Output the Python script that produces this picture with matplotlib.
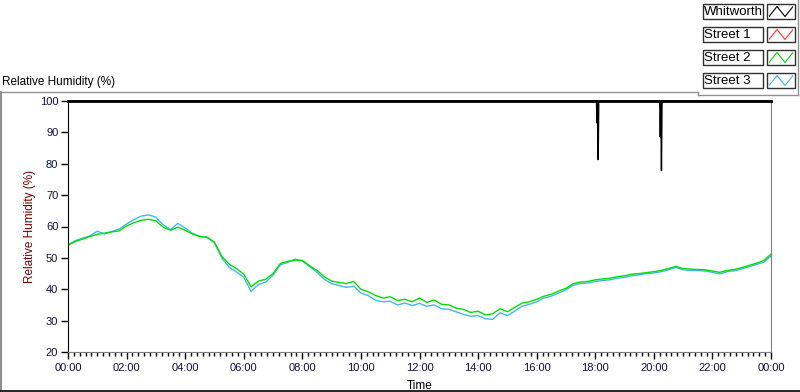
import matplotlib.pyplot as plt
from matplotlib.lines import Line2D
from matplotlib.patches import Rectangle

plt.rcParams['font.family'] = ['Liberation Sans', 'DejaVu Sans']
plt.rcParams['font.size'] = 8.5

# hours since midnight, sampled every 15 minutes
hours = [i * 0.25 for i in range(97)]

street2 = [54.0, 55.2, 56.0, 56.8, 57.5, 57.9, 58.3, 58.6, 60.2, 61.2, 62.0, 62.3, 61.8, 59.8, 58.8, 59.8,
           58.8, 57.6, 56.8, 56.6, 55.0, 50.5, 48.0, 46.6, 44.8, 40.8, 42.6, 43.2, 45.0, 48.2, 48.9, 49.3,
           49.2, 47.5, 46.0, 44.0, 42.6, 42.2, 41.8, 42.5, 40.0, 39.2, 38.0, 37.2, 37.6, 36.4, 36.8, 36.0,
           37.2, 35.8, 36.6, 35.2, 35.0, 34.0, 33.6, 32.6, 33.0, 31.8, 32.2, 33.8, 32.8, 34.2, 35.6, 36.0,
           36.8, 37.8, 38.4, 39.4, 40.3, 41.8, 42.3, 42.5, 43.0, 43.3, 43.5, 44.0, 44.3, 44.8, 45.0, 45.3,
           45.6, 46.0, 46.6, 47.3, 46.6, 46.4, 46.3, 46.2, 45.8, 45.4, 46.0, 46.3, 46.9, 47.6, 48.3, 49.1,
           51.2]

street3 = [54.2, 55.5, 56.3, 57.0, 58.5, 57.6, 58.4, 59.2, 60.8, 62.2, 63.3, 63.7, 63.0, 60.5, 59.0, 61.0,
           59.5, 57.8, 56.9, 56.5, 54.8, 50.0, 47.0, 45.5, 43.8, 39.3, 41.5, 42.3, 44.5, 47.8, 48.6, 49.6,
           49.0, 47.2, 45.4, 43.2, 41.8, 41.2, 40.6, 41.0, 38.8, 38.0, 36.5, 36.0, 36.2, 35.0, 35.6, 34.8,
           35.5, 34.6, 35.0, 33.8, 33.6, 32.8, 32.0, 31.4, 31.6, 30.6, 30.4, 32.5, 31.6, 33.0, 34.6, 35.2,
           36.0, 37.2, 37.8, 38.8, 39.8, 41.3, 41.8, 42.0, 42.5, 42.8, 43.0, 43.5, 43.8, 44.3, 44.6, 45.0,
           45.2, 45.6, 46.2, 47.0, 46.2, 46.0, 46.0, 45.8, 45.4, 44.9, 45.6, 45.9, 46.5, 47.2, 47.9, 48.6,
           50.6]

# Whitworth sensor sits at saturation with two short dropouts
whit_hours = [0, 18.04, 18.06, 18.08, 18.1, 18.12, 20.2, 20.22, 20.24, 20.26, 20.28, 24]
whitworth = [100, 100, 93, 100, 81.3, 100, 100, 88.5, 100, 77.8, 100, 100]

street1_hours = [0, 24]
street1 = [100, 100]

series_names = ['Whitworth', 'Street 1', 'Street 2', 'Street 3']
series_colors = ['black', '#ff3030', '#00e000', '#40b8f0']

fig = plt.figure(figsize=(8, 3.92), dpi=100)
ax = fig.add_axes([68 / 800, 1 - 352 / 392, 703 / 800, 251 / 392])

ax.plot(street1_hours, street1, color=series_colors[1], lw=1, clip_on=False)
ax.plot(hours, street3, color=series_colors[3], lw=1)
ax.plot(hours, street2, color=series_colors[2], lw=1)
ax.plot(whit_hours, whitworth, color=series_colors[0], lw=1, clip_on=False)

ax.set_xlim(0, 24)
ax.set_ylim(20, 100)
ax.set_xticks(range(0, 25, 2))
ax.set_xticklabels(['%02d:00' % (h % 24) for h in range(0, 25, 2)])
ax.set_xticks([i * 0.2 for i in range(121)], minor=True)
ax.set_yticks(range(20, 101, 10))

tick_col = '#101040'
ax.tick_params(axis='both', which='major', length=5, width=1, colors='black', labelcolor=tick_col, labelsize=8)
ax.tick_params(axis='x', which='minor', length=3, width=1, colors='black')
ax.tick_params(axis='y', pad=2)
ax.tick_params(axis='x', pad=3)

ax.spines['top'].set_color('black')
ax.spines['top'].set_linewidth(2)
ax.spines['left'].set_color('black')
ax.spines['bottom'].set_color('#808080')
ax.spines['right'].set_color('#808080')

ax.set_xlabel('Time', color='black', labelpad=5)
ax.set_ylabel('Relative Humidity (%)', color='#700000', labelpad=3)

fig.text(2 / 800, 1 - 82 / 392, 'Relative Humidity (%)', ha='left', va='center')

# panel frame lines
gray = '#909090'
fig.add_artist(Line2D([1 / 800, 698 / 800], [1 - 92 / 392] * 2, color=gray, lw=1))
fig.add_artist(Line2D([1 / 800, 1 / 800], [1 - 92 / 392, 1 - 390 / 392], color=gray, lw=1.5))
fig.add_artist(Line2D([0, 1], [1 - 390.5 / 392] * 2, color='black', lw=1.2))
fig.add_artist(Line2D([698 / 800, 698 / 800], [1 - 92 / 392, 1 - 95 / 392], color=gray, lw=1))
fig.add_artist(Line2D([698 / 800, 798 / 800], [1 - 95 / 392] * 2, color=gray, lw=1))
fig.add_artist(Line2D([798 / 800, 798 / 800], [1, 1 - 95 / 392], color=gray, lw=1))

# legend built as LabVIEW-style boxes
row_tops = [4, 27, 50, 73]
for name, col, top in zip(series_names, series_colors, row_tops):
    h = 15
    fig.add_artist(Rectangle((703 / 800, 1 - (top + h) / 392), 60 / 800, h / 392,
                             transform=fig.transFigure, facecolor='white', edgecolor='#303030', lw=1))
    fig.text(704 / 800, 1 - (top + h / 2 + 0.5) / 392, name, ha='left', va='center', fontsize=9.5)
    fig.add_artist(Rectangle((767 / 800, 1 - (top + h) / 392), 28 / 800, h / 392,
                             transform=fig.transFigure, facecolor='white', edgecolor='#303030', lw=1))
    sw = fig.add_axes([769 / 800, 1 - (top + h - 2) / 392, 24 / 800, (h - 4) / 392])
    sw.set_zorder(5)
    sw.patch.set_visible(False)
    sw.plot([0, 1, 2, 3], [0, 1, 0, 1], color=col, lw=0.8)
    sw.set_xlim(0, 3)
    sw.set_ylim(-0.05, 1.05)
    sw.axis('off')

fig.savefig('out.png', dpi=100)
